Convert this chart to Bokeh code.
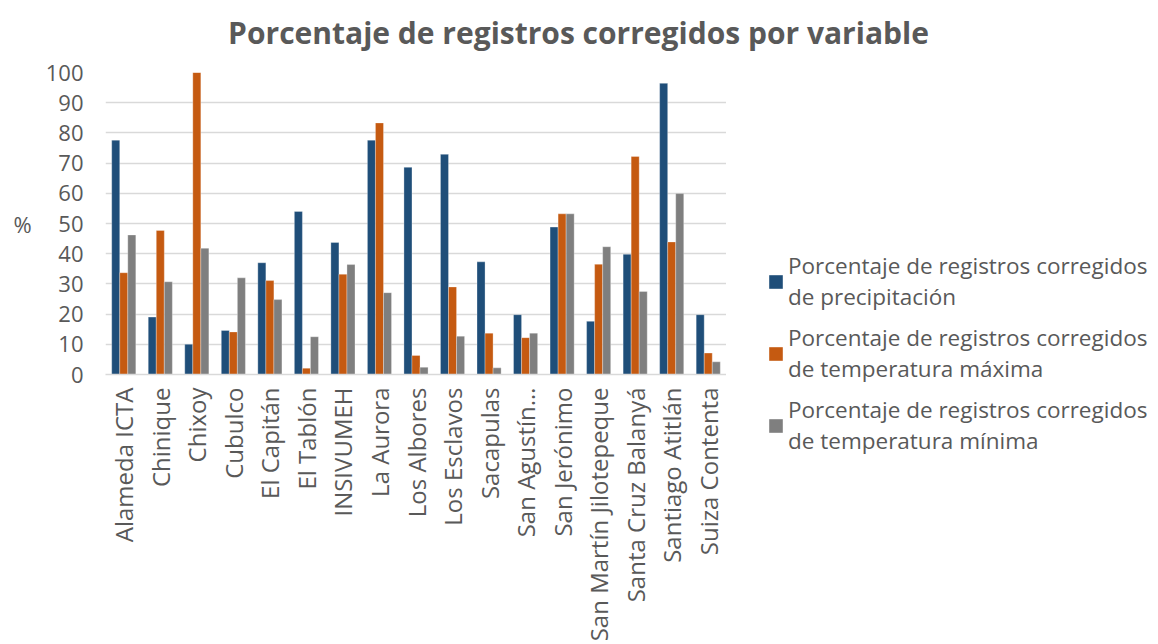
import math
from bokeh.plotting import figure
from bokeh.models import ColumnDataSource, FactorRange, Range1d, Legend, LegendItem, Label
from bokeh.layouts import column, row
from bokeh.transform import dodge
from bokeh.embed import file_html
from bokeh.resources import INLINE

stations = ["Alameda ICTA", "Chinique", "Chixoy", "Cubulco", "El Capitán", "El Tablón",
            "INSIVUMEH", "La Aurora", "Los Albores", "Los Esclavos", "Sacapulas",
            "San Agustín…", "San Jerónimo", "San Martín Jilotepeque", "Santa Cruz Balanyá",
            "Santiago Atitlán", "Suiza Contenta"]
precip = [77.6, 19.0, 10.0, 14.6, 37.0, 54.0, 43.7, 77.6, 68.6, 72.9, 37.3, 19.8, 48.8, 17.6, 39.8, 96.4, 19.8]
tmax = [33.7, 47.7, 100.0, 14.1, 31.1, 2.1, 33.2, 83.3, 6.3, 29.0, 13.7, 12.2, 53.2, 36.5, 72.2, 43.9, 7.1]
tmin = [46.2, 30.7, 41.8, 32.0, 24.8, 12.5, 36.4, 27.1, 2.4, 12.7, 2.2, 13.7, 53.2, 42.3, 27.5, 59.9, 4.2]
series_names = ["Porcentaje de registros corregidos\nde precipitación",
                "Porcentaje de registros corregidos\nde temperatura máxima",
                "Porcentaje de registros corregidos\nde temperatura mínima"]
title_text = "Porcentaje de registros corregidos por variable"
colors = ["#1f4e79", "#c55a11", "#7f7f7f"]

FONT = "Open Sans"
TXT = "#595959"


def blank_fig(w, h):
    f = figure(width=w, height=h, x_range=Range1d(0, w), y_range=Range1d(0, h),
               x_axis_location=None, y_axis_location=None, min_border=0, title=None,
               output_backend="svg", toolbar_location=None)
    f.outline_line_color = None
    f.xgrid.grid_line_color = None
    f.ygrid.grid_line_color = None
    return f


# ---- title strip ----
tf = blank_fig(1158, 56)
tf.add_layout(Label(x=578, y=24, text=title_text, text_align="center",
                    text_baseline="alphabetic", text_font=FONT, text_font_size="30px",
                    text_font_style="bold", text_color=TXT))

# ---- chart ----
src = ColumnDataSource(dict(x=stations, precip=precip, tmax=tmax, tmin=tmin))
p = figure(x_range=FactorRange(*stations, range_padding=0), y_range=Range1d(0, 100),
           width=726, height=588, output_backend="svg", toolbar_location=None,
           min_border_left=105, min_border_right=0, min_border_top=16, min_border_bottom=266)
p.outline_line_color = None

w = 0.22
for key, off, col in zip(["precip", "tmax", "tmin"], [-w, 0, w], colors):
    p.vbar(x=dodge("x", off, range=p.x_range), top=key, width=w, source=src,
           fill_color=col, line_color="white", line_width=0.5, line_alpha=0.6)

p.xgrid.grid_line_color = None
p.ygrid.grid_line_color = "#d9d9d9"
p.ygrid.grid_line_width = 1.5
p.yaxis.ticker = list(range(0, 101, 10))
p.yaxis.axis_line_color = None
p.yaxis.major_tick_line_color = None
p.yaxis.minor_tick_line_color = None
p.yaxis.major_label_text_font = FONT
p.yaxis.major_label_text_font_size = "22px"
p.yaxis.major_label_text_color = TXT
p.yaxis.major_label_standoff = 16
p.yaxis.axis_label = "%"
p.yaxis.axis_label_text_font = FONT
p.yaxis.axis_label_text_font_size = "22px"
p.yaxis.axis_label_text_font_style = "normal"
p.yaxis.axis_label_text_color = TXT
p.yaxis.axis_label_standoff = 11
if "axis_label_orientation" in p.yaxis[0].properties():
    p.yaxis.axis_label_orientation = "horizontal"

p.xaxis.axis_line_color = "#d9d9d9"
p.xaxis.axis_line_width = 1.5
p.xaxis.major_tick_line_color = None
p.xaxis.minor_tick_line_color = None
p.xaxis.major_label_orientation = math.pi / 2
p.xaxis.major_label_text_font = FONT
p.xaxis.major_label_text_font_size = "24px"
p.xaxis.major_label_text_color = TXT
p.xaxis.major_label_standoff = 7

# ---- legend panel ----
lf = blank_fig(432, 588)
lrs = [lf.vbar(x=[-1000], top=[-1000], width=1, fill_color=c, line_color=None) for c in colors]
legend = Legend(items=[LegendItem(label=n, renderers=[r]) for n, r in zip(series_names, lrs)],
                location=(41, 188), padding=0, margin=0, spacing=10,
                glyph_width=17, glyph_height=17, label_standoff=4,
                label_text_font=FONT, label_text_font_size="22.5px", label_text_color=TXT,
                border_line_color=None, background_fill_alpha=0)
lf.add_layout(legend, "center")

layout = column(tf, row(p, column(lf, spacing=0), spacing=0), spacing=0)
open("out.html", "w").write(file_html(layout, INLINE))
